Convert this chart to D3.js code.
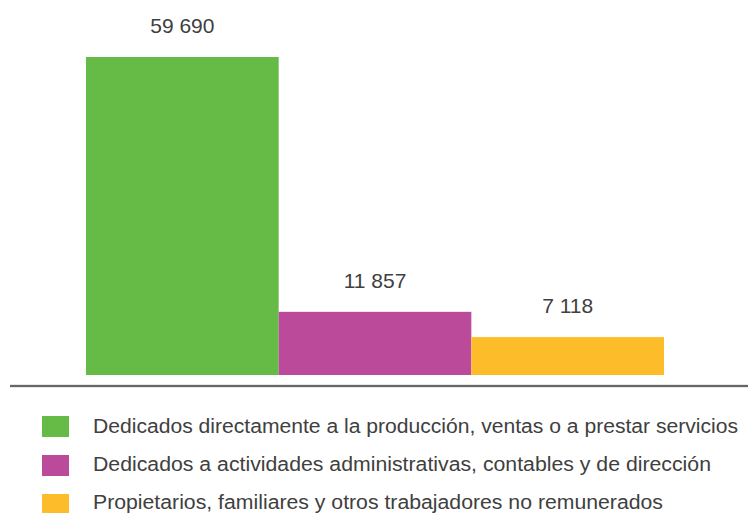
<!DOCTYPE html>
<html lang="es">
<head>
<meta charset="utf-8">
<title>Personal ocupado</title>
<script src="https://cdn.jsdelivr.net/npm/d3@7"></script>
<style>
  body { margin: 0; background: #fff; }
  svg text { font-family: "Liberation Sans", Arial, sans-serif; fill: #404040; }
</style>
</head>
<body>
<script>
// data
var categories = [
  "Dedicados directamente a la producción, ventas o a prestar servicios",
  "Dedicados a actividades administrativas, contables y de dirección",
  "Propietarios, familiares y otros trabajadores no remunerados"
];
var values = [59690, 11857, 7118];
var labels = ["59 690", "11 857", "7 118"];
var colors = ["#66bb46", "#bb4a9b", "#fdbd2b"];
var legendWidths = [645, 618, 570];

var w = 748, h = 513;

var svg = d3.select("body").append("svg")
  .attr("width", w)
  .attr("height", h);

// scales
var x = d3.scaleBand()
  .domain(categories)
  .range([86, 664])
  .padding(0);

var y = d3.scaleLinear()
  .domain([0, 59690])
  .range([375, 57]);

// bars
svg.selectAll("rect.bar")
  .data(values)
  .enter()
  .append("rect")
  .attr("class", "bar")
  .attr("x", function(d, i) { return x(categories[i]); })
  .attr("y", function(d) { return y(d); })
  .attr("width", x.bandwidth())
  .attr("height", function(d) { return y(0) - y(d); })
  .attr("fill", function(d, i) { return colors[i]; });

// value labels
svg.selectAll("text.val")
  .data(values)
  .enter()
  .append("text")
  .attr("class", "val")
  .attr("x", function(d, i) { return x(categories[i]) + x.bandwidth() / 2; })
  .attr("y", function(d) { return y(d) - 24; })
  .attr("text-anchor", "middle")
  .style("font-size", "21px")
  .text(function(d, i) { return labels[i]; });

// baseline
svg.append("line")
  .attr("x1", 10).attr("x2", w)
  .attr("y1", 386).attr("y2", 386)
  .attr("stroke", "#cfcfcf")
  .attr("stroke-width", 3);
svg.append("line")
  .attr("x1", 10).attr("x2", w)
  .attr("y1", 386).attr("y2", 386)
  .attr("stroke", "#454545")
  .attr("stroke-width", 1.6);

// legend
var legend = svg.selectAll("g.legend")
  .data(categories)
  .enter()
  .append("g")
  .attr("class", "legend");

legend.append("rect")
  .attr("x", 42)
  .attr("y", function(d, i) { return 416 + i * 39; })
  .attr("width", 27)
  .attr("height", 21)
  .attr("fill", function(d, i) { return colors[i]; });

legend.append("text")
  .attr("x", 93)
  .attr("y", function(d, i) { return 433 + i * 38; })
  .style("font-size", "19.5px")
  .attr("textLength", function(d, i) { return legendWidths[i]; })
  .attr("lengthAdjust", "spacingAndGlyphs")
  .text(function(d) { return d; });
</script>
</body>
</html>
